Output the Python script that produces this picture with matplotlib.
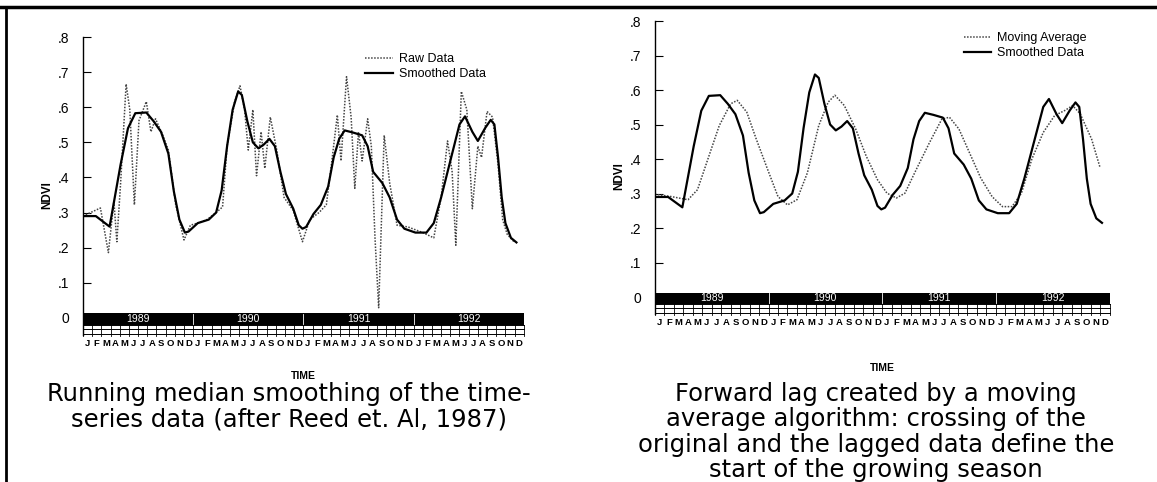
import numpy as np
import matplotlib
matplotlib.use("Agg")
import matplotlib.pyplot as plt
from matplotlib.patches import Rectangle

# ---- data (month index 0..48, Jan 1989 = 0) ----
years = ["1989", "1990", "1991", "1992"]
month_letters = list("JFMAMJJASOND") * 4

smooth_x = [0.0, 1.4, 2.9, 4.1, 4.9, 5.7, 6.9, 7.7, 8.5, 9.3, 9.9, 10.5, 11.1, 11.5,
            12.5, 13.7, 14.5, 15.1, 15.7, 16.3, 16.9, 17.3, 17.9, 18.5, 19.1, 19.7,
            20.3, 20.9, 21.5, 22.1, 22.9, 23.5, 23.9, 24.3, 25.1, 25.9, 26.7, 27.3,
            27.9, 28.5, 29.4, 30.4, 31.0, 31.6, 32.6, 33.4, 34.2, 35.0, 36.2, 37.4,
            38.2, 39.0, 40.0, 41.0, 41.6, 42.4, 43.0, 43.8, 44.4, 44.8, 45.2, 45.6,
            46.0, 46.6, 47.2]
smooth_y = [0.29, 0.29, 0.26, 0.437, 0.54, 0.583, 0.585, 0.56, 0.53, 0.468, 0.36, 0.28,
            0.243, 0.246, 0.27, 0.28, 0.30, 0.363, 0.49, 0.593, 0.645, 0.635, 0.56, 0.50,
            0.483, 0.494, 0.51, 0.489, 0.416, 0.353, 0.311, 0.264, 0.254, 0.259, 0.296,
            0.322, 0.374, 0.457, 0.51, 0.534, 0.528, 0.52, 0.489, 0.416, 0.384, 0.343,
            0.28, 0.254, 0.243, 0.243, 0.27, 0.343, 0.447, 0.551, 0.574, 0.53, 0.504,
            0.541, 0.564, 0.551, 0.457, 0.343, 0.27, 0.228, 0.215]

raw_x = [0.0, 1.9, 2.77, 3.37, 3.69, 4.1, 4.7, 5.1, 5.6, 6.1, 6.9, 7.4, 7.9, 8.7, 9.3,
         10.1, 11.0, 11.7, 12.5, 13.5, 14.5, 15.2, 15.7, 16.5, 17.1, 17.6, 18.0, 18.5,
         18.9, 19.4, 19.8, 20.4, 21.1, 21.9, 22.9, 23.9, 24.7, 25.7, 26.5, 27.1, 27.7,
         28.1, 28.7, 29.2, 29.6, 30.0, 30.4, 31.0, 31.4, 31.8, 32.2, 32.8, 33.4, 34.2,
         35.4, 37.0, 38.2, 39.0, 39.7, 40.2, 40.6, 41.2, 41.8, 42.4, 43.0, 43.4, 44.0,
         44.6, 45.2, 45.7, 46.2, 47.0]
raw_y = [0.29, 0.313, 0.186, 0.332, 0.217, 0.384, 0.666, 0.593, 0.322, 0.562, 0.616,
         0.53, 0.567, 0.52, 0.478, 0.322, 0.222, 0.264, 0.27, 0.28, 0.30, 0.316, 0.49,
         0.614, 0.661, 0.593, 0.478, 0.593, 0.405, 0.53, 0.426, 0.572, 0.478, 0.343,
         0.306, 0.217, 0.28, 0.30, 0.322, 0.447, 0.578, 0.447, 0.687, 0.572, 0.369,
         0.53, 0.447, 0.567, 0.489, 0.228, 0.029, 0.52, 0.384, 0.264, 0.259, 0.243,
         0.228, 0.343, 0.504, 0.416, 0.207, 0.645, 0.593, 0.311, 0.489, 0.457, 0.588,
         0.572, 0.437, 0.28, 0.238, 0.215]

mavg_x = [0.0, 1.75, 3.5, 4.5, 5.6, 6.8, 8.0, 8.7, 9.7, 10.7, 11.9, 13.0, 14.0, 15.0,
          16.1, 17.3, 18.3, 19.0, 20.0, 21.2, 22.3, 23.5, 24.5, 25.5, 26.4, 27.6, 29.0,
          30.3, 31.1, 32.1, 33.2, 34.4, 35.6, 36.7, 37.7, 38.7, 39.8, 41.0, 42.2, 43.3,
          44.1, 44.9, 46.1, 47.0]
mavg_y = [0.298, 0.291, 0.282, 0.311, 0.40, 0.497, 0.56, 0.57, 0.536, 0.458, 0.37,
          0.291, 0.267, 0.282, 0.36, 0.497, 0.565, 0.585, 0.555, 0.487, 0.409, 0.34,
          0.301, 0.287, 0.301, 0.37, 0.448, 0.516, 0.521, 0.487, 0.419, 0.345, 0.291,
          0.262, 0.262, 0.301, 0.40, 0.477, 0.526, 0.541, 0.555, 0.531, 0.458, 0.375]

yticks = [0, 0.1, 0.2, 0.3, 0.4, 0.5, 0.6, 0.7, 0.8]
yticklabels = ["0", ".1", ".2", ".3", ".4", ".5", ".6", ".7", ".8"]
captions = ["Running median smoothing of the time-\nseries data (after Reed et. Al, 1987)",
            "Forward lag created by a moving\naverage algorithm: crossing of the\n"
            "original and the lagged data define the\nstart of the growing season"]

plt.rcParams['font.family'] = ['Liberation Sans', 'DejaVu Sans']

fig = plt.figure(figsize=(11.57, 4.82), dpi=100)


def draw_calendar(ax):
    # black year bar with white labels, month grid and letters beneath
    ax.add_patch(Rectangle((0, -0.02), 48, 0.033, facecolor='black',
                           edgecolor='none', clip_on=False, zorder=3))
    for k, yr in enumerate(years):
        ax.text(12 * k + 6, -0.004, yr, color='white', ha='center', va='center',
                fontsize=7.5, zorder=4, clip_on=False)
        if k > 0:
            ax.plot([12 * k, 12 * k], [-0.018, 0.011], color='white', lw=0.6,
                    zorder=4, clip_on=False)
    for yy in [-0.02, -0.033, -0.046]:
        ax.plot([0, 48], [yy, yy], color='black', lw=0.7, clip_on=False)
    for m in range(49):
        ax.plot([m, m], [-0.02, -0.051], color='black', lw=0.6, clip_on=False)
    for m, lt in enumerate(month_letters):
        ax.text(m + 0.5, -0.073, lt, ha='center', va='center', fontsize=6.8,
                fontweight='bold', clip_on=False)


def setup(ax):
    ax.set_xlim(0, 48)
    ax.set_ylim(-0.1, 0.8)
    for s in ['top', 'right', 'bottom']:
        ax.spines[s].set_visible(False)
    ax.spines['left'].set_bounds(-0.05, 0.8)
    ax.spines['left'].set_linewidth(1.0)
    ax.set_xticks([])
    ax.set_yticks(yticks)
    ax.set_yticklabels(yticklabels, fontsize=10)
    ax.tick_params(axis='y', direction='in', length=6, width=0.8, pad=10)
    ax.set_ylabel("NDVI", fontsize=8.5, fontweight='bold', labelpad=3)
    draw_calendar(ax)


# left panel
ax1 = fig.add_axes([0.0717, 0.2676, 0.381, 0.6556])
ax1.plot(raw_x, raw_y, color='#444444', lw=1.1, ls=(0, (1, 1)), label='Raw Data')
ax1.plot(smooth_x, smooth_y, color='black', lw=1.6, label='Smoothed Data')
setup(ax1)
ax1.legend(loc='upper right', bbox_to_anchor=(0.94, 0.985), frameon=False, fontsize=9,
           handlelength=2.2, handletextpad=0.5, labelspacing=0.25)
ax1.text(24, -0.166, "TIME", ha='center', va='center', fontsize=7.5, fontweight='bold')

# right panel
ax2 = fig.add_axes([0.566, 0.3122, 0.393, 0.6442])
ax2.plot(mavg_x, mavg_y, color='#444444', lw=1.1, ls=(0, (1, 1)), label='Moving Average')
ax2.plot(smooth_x, smooth_y, color='black', lw=1.6, label='Smoothed Data')
setup(ax2)
ax2.legend(loc='upper right', bbox_to_anchor=(0.975, 1.0), frameon=False, fontsize=9,
           handlelength=2.2, handletextpad=0.5, labelspacing=0.25)
ax2.text(24, -0.205, "TIME", ha='center', va='center', fontsize=7.5, fontweight='bold')

# captions
fig.text(0.25, 0.208, captions[0], ha='center', va='top', fontsize=17.5,
         family='DejaVu Sans', linespacing=1.08)
fig.text(0.757, 0.208, captions[1], ha='center', va='top', fontsize=17.5,
         family='DejaVu Sans', linespacing=1.08)

# page frame: top and left rules
fig.add_artist(plt.Line2D([0, 1], [0.985, 0.985], color='black', lw=2.5))
fig.add_artist(plt.Line2D([0.0056, 0.0056], [0, 0.985], color='black', lw=2.0))

fig.savefig("out.png", dpi=100)
